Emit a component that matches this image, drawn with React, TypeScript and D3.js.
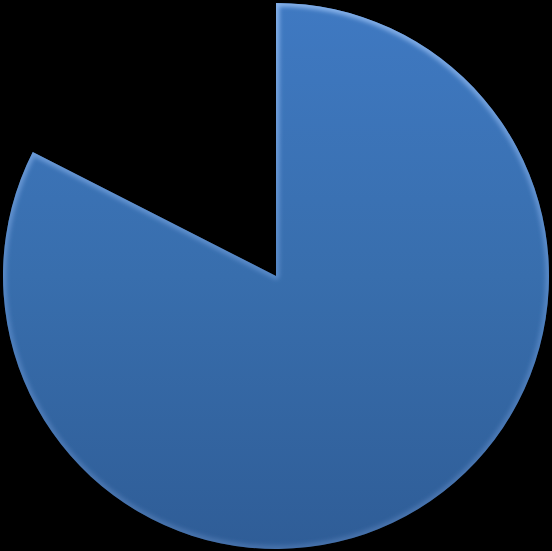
import React from "react";
import * as d3 from "d3";

const categories = ["A", "B"];
const values = [82.5, 17.5];
const visible = [true, false];

const W = 552;
const H = 551;

export default function App() {
  const cx = 276;
  const cy = 276;
  const r = 273;
  const pie = d3.pie<number>().sort(null).value((d) => d);
  const arcs = pie(values);
  const arcGen = d3.arc<d3.PieArcDatum<number>>().innerRadius(0).outerRadius(r);

  return (
    <svg
      width={W}
      height={H}
      style={{ position: "fixed", left: 0, top: 0, background: "#000", display: "block" }}
    >
      <defs>
        <linearGradient id="fillGrad" x1="0" y1="0" x2="0" y2="1">
          <stop offset="0" stopColor="#3f79c2" />
          <stop offset="0.5" stopColor="#386ead" />
          <stop offset="1" stopColor="#2f5d97" />
        </linearGradient>
        <linearGradient id="edgeGrad" x1="0" y1="0" x2="0" y2="1">
          <stop offset="0" stopColor="#8fb8ee" stopOpacity="0.9" />
          <stop offset="0.6" stopColor="#6a98d6" stopOpacity="0.5" />
          <stop offset="1" stopColor="#5f87bf" stopOpacity="0.5" />
        </linearGradient>
        <filter id="blur" x="-10%" y="-10%" width="120%" height="120%">
          <feGaussianBlur stdDeviation="2" />
        </filter>
        {arcs.map((a, i) => (
          <clipPath id={`clip${i}`} key={i}>
            <path d={arcGen(a) || ""} />
          </clipPath>
        ))}
      </defs>
      <g transform={`translate(${cx},${cy})`}>
        {arcs.map((a, i) =>
          visible[i] ? (
            <g key={categories[i]}>
              <path d={arcGen(a) || ""} fill="url(#fillGrad)" />
              <g clipPath={`url(#clip${i})`}>
                <path
                  d={arcGen(a) || ""}
                  fill="none"
                  stroke="url(#edgeGrad)"
                  strokeWidth={7}
                  strokeLinejoin="round"
                  filter="url(#blur)"
                />
              </g>
            </g>
          ) : null
        )}
      </g>
    </svg>
  );
}
